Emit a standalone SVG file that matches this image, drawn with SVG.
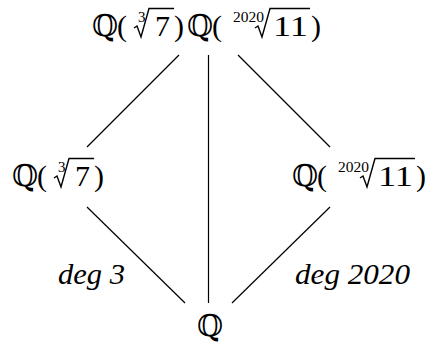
<svg xmlns="http://www.w3.org/2000/svg" width="425" height="343" viewBox="0 0 425 343">
<style>
.t{font-family:"Liberation Serif","DejaVu Serif",serif;font-size:30px;fill:#000}
.s{font-family:"Liberation Serif","DejaVu Serif",serif;font-size:15px;fill:#000}
.i{font-family:"Liberation Serif","DejaVu Serif",serif;font-size:29px;font-style:italic;fill:#000}
.e{stroke:#000;stroke-width:1.2;fill:none}
.r{stroke:#000;stroke-width:1.4;fill:none;stroke-linejoin:miter}
</style>
<rect width="425" height="343" fill="#fff"/>
<g id="connectors">
<line class="e" x1="179" y1="55" x2="87" y2="147"/>
<line class="e" x1="208.5" y1="55" x2="208.5" y2="303"/>
<line class="e" x1="238" y1="55" x2="330" y2="147"/>
<line class="e" x1="87" y1="207" x2="185" y2="303"/>
<line class="e" x1="330" y1="207" x2="232" y2="303"/>
</g>
<g id="top">
<text class="t" x="92" y="36">ℚ</text>
<text class="t" x="117" y="36">(</text>
<text class="s" x="138" y="22">3</text>
<polyline class="r" points="134,28 137,26 141,37 149,8.5 174,8.5"/>
<text class="t" x="155" y="36">7</text>
<text class="t" x="174" y="36">)</text>
<text class="t" x="187" y="36">ℚ</text>
<text class="t" x="212" y="36">(</text>
<text class="s" x="233" y="22" textLength="31" lengthAdjust="spacingAndGlyphs">2020</text>
<polyline class="r" points="255,28 258,26 262,37 270,8.5 310,8.5"/>
<text class="t" x="273" y="36" textLength="35" lengthAdjust="spacingAndGlyphs">11</text>
<text class="t" x="311" y="36">)</text>
</g>
<g id="left">
<text class="t" x="12" y="186">ℚ</text>
<text class="t" x="37" y="186">(</text>
<text class="s" x="58" y="172">3</text>
<polyline class="r" points="54,178 57,176 61,187 69,158.5 94,158.5"/>
<text class="t" x="75" y="186">7</text>
<text class="t" x="94" y="186">)</text>
</g>
<g id="right">
<text class="t" x="292" y="186">ℚ</text>
<text class="t" x="317" y="186">(</text>
<text class="s" x="338" y="172" textLength="31" lengthAdjust="spacingAndGlyphs">2020</text>
<polyline class="r" points="360,178 363,176 367,187 375,158.5 415,158.5"/>
<text class="t" x="378" y="186" textLength="35" lengthAdjust="spacingAndGlyphs">11</text>
<text class="t" x="416" y="186">)</text>
</g>
<g id="bottom">
<text class="t" x="197" y="336">ℚ</text>
</g>
<text class="i" x="58" y="284" textLength="67" lengthAdjust="spacingAndGlyphs">deg 3</text>
<text class="i" x="295" y="284" textLength="115" lengthAdjust="spacingAndGlyphs">deg 2020</text>
</svg>
